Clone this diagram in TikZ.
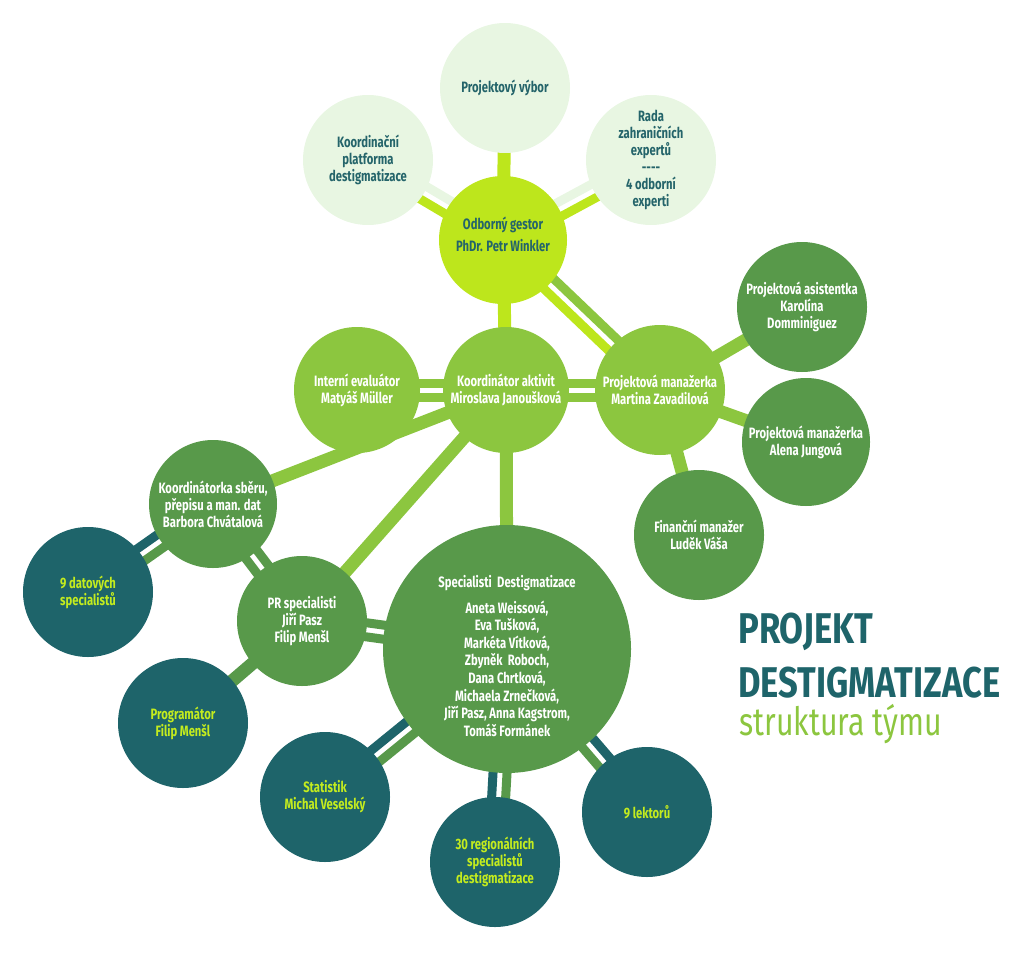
\documentclass[tikz,border=0pt]{standalone}
\usepackage{fontspec}
\setmainfont{Fira Sans}[FakeStretch=0.75]
\usetikzlibrary{calc}
\pgfdeclarelayer{bg}
\pgfsetlayers{bg,main}
\definecolor{pale}{HTML}{E8F6E2}
\definecolor{lime}{HTML}{BDE61C}
\definecolor{med}{HTML}{8CC63F}
\definecolor{dark}{HTML}{58994A}
\definecolor{teal}{HTML}{1E646A}
\definecolor{tdark}{HTML}{24646A}
\definecolor{tlime}{HTML}{C4EC1E}
\newcommand\dblbar[4]{%
  \draw[line width=9pt,#3] ($(#1)!7pt!90:(#2)$) -- ($(#2)!7pt!-90:(#1)$);
  \draw[line width=9pt,#4] ($(#1)!7pt!-90:(#2)$) -- ($(#2)!7pt!90:(#1)$);}
\newcommand\sglbar[3]{%
  \draw[line width=13pt,#3] (#1.center) -- (#2.center);}
\begin{document}
\begin{tikzpicture}[x=1pt,y=-1pt,
  bub/.style={circle,inner sep=0pt,align=center,minimum size=130pt,
    font=\fontsize{15}{17}\selectfont\bfseries},
  palebub/.style={bub,fill=pale,text=tdark},
  limebub/.style={bub,fill=lime,text=tdark},
  medbub/.style={bub,fill=med,text=white},
  darkbub/.style={bub,fill=dark,text=white},
  tealbub/.style={bub,fill=teal,text=tlime},
  inner/.style={inner sep=0pt,align=center},
  title/.style={anchor=base west,inner sep=0pt}]
\useasboundingbox (0,0) rectangle (1024,952);
% top
\node[palebub] (vybor) at (505,88) {Projektový výbor};
\node[palebub] (platf) at (368,160) {Koordinační\\platforma\\destigmatizace};
\node[palebub] (rada) at (651,160) {Rada\\zahraničních\\expertů\\-{}-{}-{}-\\4 odborní\\experti};
\node[limebub,minimum size=128pt] (gestor) at (503,240) {};
\node[inner,text=tdark,font=\fontsize{15}{17}\selectfont\bfseries] (gestortext) at ($(gestor)+(0,-6)$) {Odborný gestor\\[5pt]PhDr. Petr Winkler};
% middle
\node[medbub,minimum size=126pt] (inter) at (357,390) {Interní evaluátor\\Matyáš Müller};
\node[medbub,minimum size=126pt] (koord) at (506,390) {Koordinátor aktivit\\Miroslava Janoušková};
\node[medbub] (martina) at (660,390) {Projektová manažerka\\Martina Zavadilová};
% right
\node[darkbub] (asist) at (802,307) {Projektová asistentka\\Karolína\\Domminiguez};
\node[darkbub,minimum size=128pt] (alena) at (806,442) {Projektová manažerka\\Alena Jungová};
\node[darkbub] (financ) at (699,535) {Finanční manažer\\Luděk Váša};
% left
\node[darkbub,minimum size=128pt] (sber) at (213,504) {Koordinátorka sběru,\\přepisu a man. dat\\Barbora Chvátalová};
\node[darkbub] (pr) at (302,621) {PR specialisti\\Jiří Pasz\\Filip Menšl};
\node[darkbub,minimum size=248pt] (spec) at (507,649) {};
\node[inner,text=white,font=\fontsize{15}{17.6}\selectfont\bfseries] (spectext) at ($(spec)+(0,7)$)
  {Specialisti~~Destigmatizace\\[8pt]Aneta Weissová,\\Eva Tušková,\\Markéta Vítková,\\Zbyněk~~Roboch,\\Dana Chrtková,\\Michaela Zrnečková,\\Jiří Pasz, Anna Kagstrom,\\Tomáš Formánek};
% teal
\node[tealbub] (datov) at (88,592) {9 datových\\specialistů};
\node[tealbub] (progr) at (183,723) {Programátor\\Filip Menšl};
\node[tealbub] (stat) at (325,797) {Statistik\\Michal Veselský};
\node[tealbub] (region) at (495,862) {30 regionálních\\specialistů\\destigmatizace};
\node[tealbub] (lektor) at (647,812) {9 lektorů};
% title
\node[title,text=teal] (t1) at (738,643) {\resizebox{135pt}{\height}{\fontsize{43}{43}\selectfont\bfseries PROJEKT}};
\node[title,text=teal] (t2) at (738,697) {\resizebox{262pt}{\height}{\fontsize{43}{43}\selectfont\bfseries DESTIGMATIZACE}};
\node[title,text=med] (t3) at (739,735) {\resizebox{203pt}{\height}{\fontsize{39}{39}\selectfont struktura týmu}};
% connectors
\begin{pgfonlayer}{bg}
\sglbar{gestor}{vybor}{lime}
\dblbar{gestor}{platf}{lime}{pale}
\dblbar{gestor}{rada}{pale}{lime}
\dblbar{gestor}{martina}{med}{lime}
\sglbar{gestor}{koord}{lime}
\dblbar{inter}{koord}{med}{med}
\dblbar{koord}{martina}{med}{med}
\sglbar{martina}{asist}{med}
\sglbar{martina}{alena}{med}
\sglbar{martina}{financ}{med}
\sglbar{koord}{sber}{med}
\sglbar{koord}{pr}{med}
\sglbar{koord}{spec}{med}
\dblbar{sber}{datov}{dark}{teal}
\dblbar{sber}{pr}{dark}{dark}
\dblbar{pr}{spec}{dark}{dark}
\sglbar{pr}{progr}{dark}
\dblbar{spec}{stat}{dark}{teal}
\dblbar{spec}{region}{dark}{teal}
\dblbar{spec}{lektor}{teal}{dark}
\end{pgfonlayer}
\end{tikzpicture}
\end{document}
